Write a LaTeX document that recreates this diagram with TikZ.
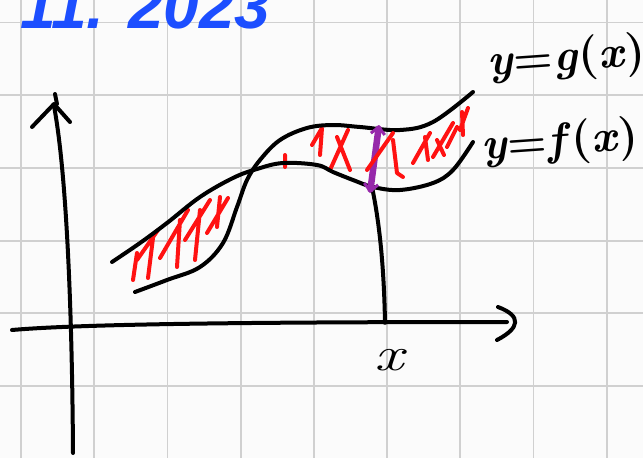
\documentclass[tikz,border=0pt]{standalone}
\usepackage{fontspec}
\newfontfamily\titlefont{Liberation Sans}
\usetikzlibrary{arrows.meta}
\definecolor{gridc}{RGB}{208,208,208}
\definecolor{bg}{RGB}{251,251,251}
\definecolor{penblue}{RGB}{28,78,255}
\definecolor{penred}{RGB}{255,18,18}
\definecolor{penpurple}{RGB}{150,40,170}
\tikzset{
  ink/.style={line width=4pt,line cap=round,line join=round,black},
  hatch/.style={line width=4pt,line cap=round,line join=round,penred},
  gridline/.style={line width=1.8pt,gridc},
  lbl/.style={inner sep=0pt,font=\bfseries\fontsize{45}{45}\selectfont}
}
\begin{document}
\begin{tikzpicture}[x=1pt,y=-1pt]
\useasboundingbox (0,0) rectangle (643,458);
\clip (0,0) rectangle (643,458);
\fill[bg] (0,0) rectangle (643,458);
% grid
\foreach \k in {0,...,8} \draw[gridline] ({21+73.2*\k},0) -- ({21+73.2*\k},458);
\foreach \k in {0,...,6} \draw[gridline] (0,{22.5+72.7*\k}) -- (643,{22.5+72.7*\k});
% title
\node[anchor=base west,inner sep=0pt,penblue,font=\titlefont\itshape\bfseries\fontsize{64}{64}\selectfont] (title) at (20,28) {11. 2023};
% red hatching left
\draw[hatch] (133,280)--(137,253) (137,260)--(158,230) (148,278)--(153,238)
  (160,258)--(188,210) (177,267)--(180,220) (195,260)--(200,210)
  (185,240)--(210,200) (207,233)--(228,198) (217,227)--(220,197);
% red hatching middle
\draw[hatch] (285,155)--(285,167) (312,145)--(322,128)--(320,155)
  (330,170)--(348,130) (337,137)--(350,170)
  (393,140)--(397,173)--(403,177)
  (413,163)--(430,133) (425,137)--(428,160)
  (433,157)--(453,123) (437,140)--(444,155)
  (447,147)--(457,127) (460,130)--(468,108) (462,112)--(463,135);
% curves
\draw[ink] plot[smooth,tension=0.6] coordinates {(112,262) (140,243) (167,223) (200,197) (233,178) (257,169) (283,163) (317,165) (333,172) (353,180) (373,187) (400,190) (433,183) (453,170) (473,142)};
\draw[ink] plot[smooth,tension=0.6] coordinates {(135,292) (167,280) (200,267) (223,243) (237,207) (247,180) (260,160) (280,140) (307,128) (333,125) (360,127) (400,130) (433,122) (473,92)};
% vertical at x
\coordinate (top) at (372,187);
\coordinate (foot) at (385,322);
\draw[ink] (top) .. controls (380,225) and (384,270) .. (foot);
\fill (foot) circle (2.8pt);
% purple double arrow
\coordinate (pt) at (379,125);
\coordinate (pb) at (370,193);
\draw[line width=6.5pt,penpurple,line cap=round,{Straight Barb[length=7pt,width=14pt,line width=3pt]}-{Straight Barb[length=7pt,width=14pt,line width=3pt]}] (pt) -- (pb);
\draw[hatch] (367,170)--(393,133);
% axes
\coordinate (yb) at (73,453);
\coordinate (yt) at (54,106);
\draw[ink] (yb) .. controls (72,300) and (66,170) .. (yt);
\draw[ink] (32,127) -- (54,104) -- (70,122);
\draw[ink] (55,94) -- (57,104);
\coordinate (xl) at (12,330);
\coordinate (xr) at (507,322);
\draw[ink] (xl) .. controls (70,325) and (200,322) .. (xr);
\draw[ink] (498,307) .. controls (522,316) and (520,328) .. (497,340);
% labels
\node[inner sep=0pt,font=\fontsize{48}{48}\selectfont,anchor=center,xscale=1.35] (xlab) at (391,360) {\textit{x}};
\node[lbl,anchor=base west,rotate=4] (glab) at (488,76) {\textit{y}=\textit{g}(\textit{x})};
\node[lbl,anchor=base west,rotate=4] (flab) at (482,160) {\textit{y}=\textit{f}(\textit{x})};
\end{tikzpicture}
\end{document}
